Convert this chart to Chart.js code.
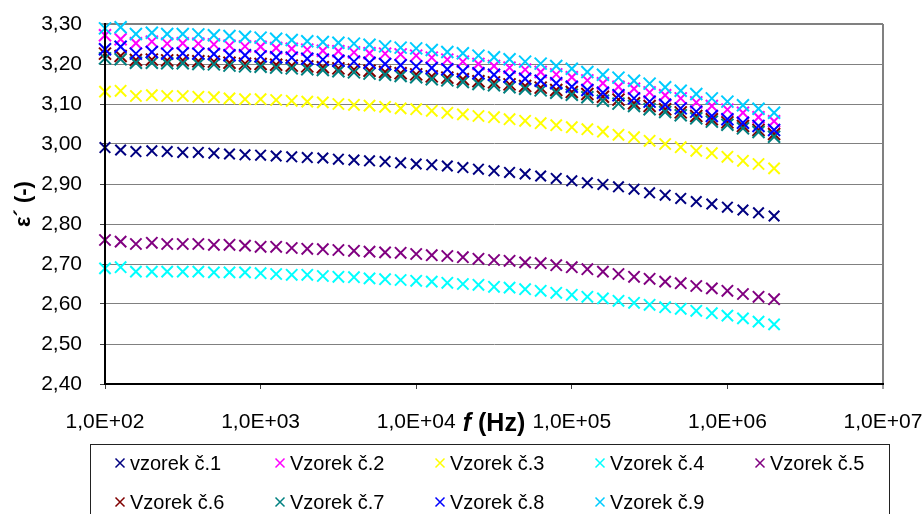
<!DOCTYPE html>
<html>
<head>
<meta charset="utf-8">
<title>Permitivita vzorků</title>
<script src="https://cdn.jsdelivr.net/npm/chart.js@4.4.1/dist/chart.umd.min.js"></script>
<style>
  html, body { margin: 0; padding: 0; background: #fff; }
  #wrap { width: 924px; height: 514px; }
</style>
</head>
<body>
<div id="wrap"><canvas id="permitivityChart" width="924" height="514"></canvas></div>
<script>
// measurement frequencies (Hz), 10 points per decade
const frequencies = [
  100, 126, 158, 200, 251, 316, 398, 501, 631, 794,
  1000, 1259, 1585, 1995, 2512, 3162, 3981, 5012, 6310, 7943,
  10000, 12589, 15849, 19953, 25119, 31623, 39811, 50119, 63096, 79433,
  100000, 125893, 158489, 199526, 251189, 316228, 398107, 501187, 630957, 794328,
  1000000, 1258925, 1584893, 1995262
];

const vzorek1 = [
  2.991, 2.985, 2.981, 2.983, 2.981, 2.979, 2.979, 2.977, 2.975, 2.973,
  2.972, 2.970, 2.968, 2.966, 2.965, 2.962, 2.960, 2.958, 2.956, 2.953,
  2.950, 2.948, 2.945, 2.941, 2.937, 2.933, 2.929, 2.925, 2.920, 2.914,
  2.908, 2.903, 2.899, 2.893, 2.887, 2.878, 2.872, 2.864, 2.856, 2.850,
  2.842, 2.835, 2.828, 2.820
];
const vzorek2 = [
  3.272, 3.262, 3.252, 3.256, 3.251, 3.252, 3.251, 3.249, 3.246, 3.244,
  3.243, 3.240, 3.238, 3.236, 3.233, 3.232, 3.229, 3.227, 3.226, 3.224,
  3.221, 3.216, 3.211, 3.206, 3.200, 3.195, 3.191, 3.186, 3.180, 3.174,
  3.167, 3.159, 3.152, 3.143, 3.138, 3.129, 3.122, 3.114, 3.104, 3.095,
  3.086, 3.078, 3.067, 3.057
];
const vzorek3 = [
  3.131, 3.133, 3.120, 3.122, 3.120, 3.120, 3.118, 3.117, 3.114, 3.112,
  3.112, 3.110, 3.108, 3.106, 3.104, 3.100, 3.098, 3.096, 3.093, 3.089,
  3.087, 3.083, 3.078, 3.074, 3.070, 3.067, 3.062, 3.058, 3.052, 3.047,
  3.042, 3.037, 3.031, 3.023, 3.017, 3.008, 3.000, 2.992, 2.983, 2.977,
  2.968, 2.958, 2.950, 2.939
];
const vzorek4 = [
  2.689, 2.692, 2.681, 2.681, 2.681, 2.681, 2.681, 2.679, 2.679, 2.679,
  2.677, 2.675, 2.673, 2.673, 2.670, 2.668, 2.667, 2.664, 2.662, 2.660,
  2.658, 2.656, 2.653, 2.650, 2.648, 2.643, 2.641, 2.637, 2.633, 2.628,
  2.623, 2.618, 2.614, 2.608, 2.603, 2.598, 2.592, 2.588, 2.583, 2.577,
  2.571, 2.564, 2.556, 2.549
];
const vzorek5 = [
  2.760, 2.756, 2.750, 2.753, 2.750, 2.750, 2.750, 2.748, 2.748, 2.746,
  2.743, 2.743, 2.740, 2.738, 2.737, 2.735, 2.733, 2.731, 2.729, 2.728,
  2.725, 2.722, 2.720, 2.717, 2.713, 2.710, 2.708, 2.704, 2.702, 2.697,
  2.692, 2.687, 2.681, 2.675, 2.668, 2.663, 2.656, 2.652, 2.645, 2.639,
  2.633, 2.625, 2.618, 2.612
];
const vzorek6 = [
  3.226, 3.220, 3.210, 3.211, 3.209, 3.209, 3.207, 3.206, 3.203, 3.201,
  3.200, 3.198, 3.196, 3.194, 3.192, 3.189, 3.186, 3.183, 3.180, 3.177,
  3.174, 3.169, 3.166, 3.162, 3.157, 3.154, 3.149, 3.145, 3.141, 3.135,
  3.130, 3.125, 3.118, 3.111, 3.102, 3.095, 3.087, 3.079, 3.070, 3.062,
  3.054, 3.045, 3.035, 3.025
];
const vzorek7 = [
  3.214, 3.212, 3.203, 3.203, 3.202, 3.202, 3.200, 3.199, 3.196, 3.194,
  3.193, 3.191, 3.189, 3.187, 3.185, 3.182, 3.179, 3.176, 3.173, 3.170,
  3.167, 3.162, 3.159, 3.155, 3.150, 3.147, 3.142, 3.138, 3.134, 3.128,
  3.123, 3.117, 3.108, 3.101, 3.095, 3.087, 3.080, 3.072, 3.064, 3.056,
  3.048, 3.039, 3.030, 3.018
];
const vzorek8 = [
  3.237, 3.243, 3.226, 3.230, 3.226, 3.227, 3.226, 3.225, 3.222, 3.222,
  3.219, 3.217, 3.216, 3.213, 3.211, 3.208, 3.206, 3.203, 3.200, 3.197,
  3.194, 3.190, 3.187, 3.182, 3.177, 3.173, 3.168, 3.163, 3.158, 3.152,
  3.143, 3.135, 3.128, 3.122, 3.114, 3.106, 3.098, 3.089, 3.081, 3.070,
  3.062, 3.053, 3.045, 3.035
];
const vzorek9 = [
  3.289, 3.292, 3.275, 3.278, 3.275, 3.275, 3.274, 3.272, 3.270, 3.268,
  3.266, 3.263, 3.260, 3.257, 3.255, 3.253, 3.251, 3.248, 3.244, 3.241,
  3.239, 3.235, 3.230, 3.227, 3.221, 3.217, 3.212, 3.206, 3.201, 3.195,
  3.188, 3.180, 3.173, 3.166, 3.158, 3.151, 3.142, 3.133, 3.125, 3.114,
  3.106, 3.097, 3.088, 3.078
];

const seriesValues = [vzorek1, vzorek2, vzorek3, vzorek4, vzorek5, vzorek6, vzorek7, vzorek8, vzorek9];
const seriesLabels = [
  'vzorek č.1', 'Vzorek č.2', 'Vzorek č.3', 'Vzorek č.4', 'Vzorek č.5',
  'Vzorek č.6', 'Vzorek č.7', 'Vzorek č.8', 'Vzorek č.9'
];
const seriesColors = [
  '#000080', '#FF00FF', '#FFFF00', '#00FFFF', '#800080',
  '#800000', '#008080', '#0000FF', '#00CCFF'
];
// marker radius per series (the first five use the smaller cross)
const seriesMarkerRadius = [7.5, 8.5, 8, 8, 8, 8.5, 8.5, 8.5, 8.5];

const xTickValues = [1e2, 1e3, 1e4, 1e5, 1e6, 1e7];
const xTickLabels = ['1,0E+02', '1,0E+03', '1,0E+04', '1,0E+05', '1,0E+06', '1,0E+07'];

const FONT = "'Liberation Sans', Arial, sans-serif";
Chart.defaults.font.family = FONT;
Chart.defaults.color = '#000';

// "f (Hz)" under the x axis: italic f followed by the unit
const xAxisTitle = {
  id: 'xAxisTitle',
  afterDraw(chart) {
    const {ctx, chartArea} = chart;
    const italicFont = 'italic bold 25px ' + FONT;
    const boldFont = 'bold 25px ' + FONT;
    ctx.save();
    ctx.fillStyle = '#000';
    ctx.textBaseline = 'alphabetic';
    ctx.font = italicFont;
    const wF = ctx.measureText('f').width;
    ctx.font = boldFont;
    const wRest = ctx.measureText(' (Hz)').width;
    const x = (chartArea.left + chartArea.right) / 2 - (wF + wRest) / 2;
    const y = chartArea.bottom + 47;
    ctx.font = italicFont;
    ctx.fillText('f', x, y);
    ctx.font = boldFont;
    ctx.fillText(' (Hz)', x + wF, y);
    ctx.restore();
  }
};

// framed legend in a fixed grid of columns
const boxedLegend = {
  id: 'boxedLegend',
  afterDraw(chart, args, opts) {
    const {ctx} = chart;
    ctx.save();
    ctx.strokeStyle = '#222';
    ctx.lineWidth = 1;
    ctx.strokeRect(opts.left + 0.5, opts.top + 0.5, opts.width, opts.height);
    ctx.font = opts.fontSize + 'px ' + FONT;
    ctx.textBaseline = 'middle';
    ctx.textAlign = 'left';
    chart.data.datasets.forEach((ds, i) => {
      const col = i % opts.columns;
      const row = Math.floor(i / opts.columns);
      const cx = opts.left + opts.firstX + col * opts.colWidth;
      const cy = opts.top + opts.firstY + row * opts.rowHeight;
      const r = opts.markerHalf;
      ctx.strokeStyle = ds.borderColor;
      ctx.lineWidth = 1.5;
      ctx.beginPath();
      ctx.moveTo(cx - r, cy - r);
      ctx.lineTo(cx + r, cy + r);
      ctx.moveTo(cx + r, cy - r);
      ctx.lineTo(cx - r, cy + r);
      ctx.stroke();
      ctx.fillStyle = '#000';
      ctx.fillText(ds.label, cx + opts.textGap, cy + 1);
    });
    ctx.restore();
  }
};

const datasets = seriesValues.map((vals, i) => ({
  label: seriesLabels[i],
  data: frequencies.map((f, k) => ({x: f, y: vals[k]})),
  showLine: false,
  pointStyle: 'crossRot',
  pointRadius: seriesMarkerRadius[i],
  pointHoverRadius: seriesMarkerRadius[i],
  pointBorderWidth: 2,
  borderColor: seriesColors[i],
  backgroundColor: seriesColors[i],
  clip: false,
  order: seriesValues.length - i
}));

new Chart(document.getElementById('permitivityChart'), {
  type: 'scatter',
  data: {datasets},
  plugins: [xAxisTitle, boxedLegend],
  options: {
    responsive: false,
    animation: false,
    layout: {padding: {top: 24, right: 41, bottom: 74, left: 0}},
    plugins: {
      legend: {display: false},
      tooltip: {enabled: false},
      boxedLegend: {
        left: 90, top: 444, width: 799, height: 90,
        columns: 5, firstX: 30, colWidth: 160,
        firstY: 19, rowHeight: 39,
        markerHalf: 4.5, textGap: 10, fontSize: 20
      }
    },
    scales: {
      x: {
        type: 'logarithmic',
        min: 1e2,
        max: 1e7,
        afterBuildTicks: axis => {
          axis.ticks = xTickValues.map(v => ({value: v}));
        },
        afterFit: axis => {
          axis.height = 56;
          axis.paddingLeft = 0;
          axis.paddingRight = 0;
        },
        ticks: {
          autoSkip: false,
          maxRotation: 0,
          padding: 21,
          font: {size: 21},
          callback: (value, index) => xTickLabels[index]
        },
        grid: {
          drawOnChartArea: true,
          color: ctx => (ctx.tick && ctx.tick.value === 1e7 ? '#808080' : 'rgba(0,0,0,0)'),
          lineWidth: ctx => (ctx.tick && ctx.tick.value === 1e7 ? 2 : 1),
          tickColor: '#404040',
          tickLength: 5,
          tickWidth: 1
        },
        border: {color: '#000', width: 2, z: 1}
      },
      y: {
        min: 2.4,
        max: 3.3,
        afterFit: axis => {
          axis.width = 105;
          axis.paddingTop = 0;
          axis.paddingBottom = 0;
        },
        ticks: {
          stepSize: 0.1,
          padding: 18,
          font: {size: 21},
          callback: v => v.toFixed(2).replace('.', ',')
        },
        grid: {
          color: '#808080',
          lineWidth: ctx => (ctx.tick && ctx.tick.value > 3.299 ? 2 : 1),
          tickColor: '#404040',
          tickLength: 5,
          tickWidth: 1
        },
        border: {color: '#000', width: 2, z: 1},
        title: {
          display: true,
          text: 'ε´ (-)',
          font: {size: 22, weight: 'bold'},
          padding: {top: 11, bottom: 0}
        }
      }
    }
  }
});
</script>
</body>
</html>
